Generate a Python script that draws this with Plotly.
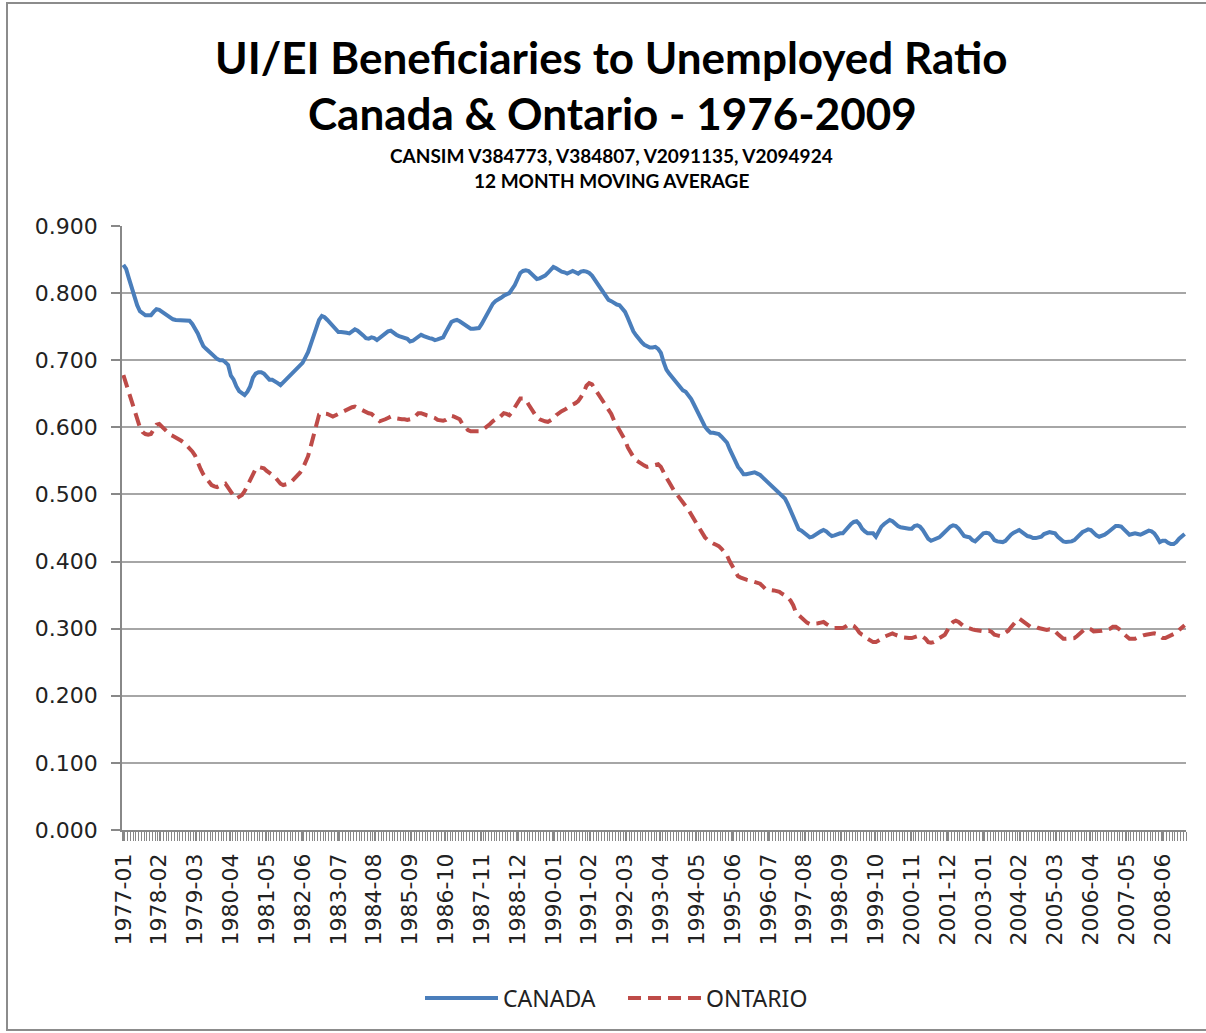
import plotly.graph_objects as go
import pandas as pd

# Monthly categories 1977-01 .. 2009-02
months = [p.strftime("%Y-%m") for p in pd.period_range("1977-01", "2009-02", freq="M")]

# Canada beneficiaries / unemployed ratio (12 month moving average)
canada = [
    0.842, 0.836, 0.822, 0.808, 0.794, 0.782, 0.773, 0.769, 0.767, 0.767, 0.767, 0.772,  # 1977
    0.776, 0.775, 0.772, 0.770, 0.767, 0.764, 0.761, 0.760, 0.760, 0.760, 0.760, 0.759,  # 1978
    0.759, 0.754, 0.748, 0.740, 0.730, 0.721, 0.717, 0.713, 0.709, 0.704, 0.702, 0.700,  # 1979
    0.700, 0.697, 0.693, 0.677, 0.671, 0.661, 0.654, 0.651, 0.648, 0.653, 0.661, 0.674,  # 1980
    0.680, 0.682, 0.682, 0.680, 0.675, 0.671, 0.671, 0.669, 0.666, 0.663, 0.667, 0.671,  # 1981
    0.676, 0.680, 0.684, 0.688, 0.691, 0.696, 0.704, 0.712, 0.724, 0.736, 0.748, 0.760,  # 1982
    0.766, 0.764, 0.760, 0.756, 0.752, 0.746, 0.742, 0.742, 0.742, 0.741, 0.740, 0.743,  # 1983
    0.746, 0.744, 0.741, 0.737, 0.733, 0.732, 0.734, 0.733, 0.730, 0.733, 0.736, 0.740,  # 1984
    0.743, 0.744, 0.740, 0.738, 0.736, 0.735, 0.733, 0.732, 0.728, 0.729, 0.732, 0.735,  # 1985
    0.738, 0.736, 0.734, 0.733, 0.732, 0.730, 0.731, 0.732, 0.734, 0.742, 0.750, 0.757,  # 1986
    0.759, 0.760, 0.758, 0.755, 0.752, 0.749, 0.747, 0.747, 0.747, 0.748, 0.754, 0.762,  # 1987
    0.769, 0.777, 0.784, 0.788, 0.790, 0.793, 0.796, 0.798, 0.800, 0.806, 0.812, 0.821,  # 1988
    0.830, 0.833, 0.834, 0.833, 0.829, 0.825, 0.821, 0.822, 0.824, 0.826, 0.830, 0.835,  # 1989
    0.839, 0.837, 0.834, 0.832, 0.831, 0.829, 0.831, 0.833, 0.831, 0.829, 0.832, 0.833,  # 1990
    0.832, 0.830, 0.826, 0.820, 0.815, 0.809, 0.804, 0.797, 0.790, 0.788, 0.785, 0.783,  # 1991
    0.782, 0.777, 0.772, 0.763, 0.752, 0.743, 0.737, 0.731, 0.727, 0.723, 0.721, 0.719,  # 1992
    0.719, 0.720, 0.717, 0.711, 0.697, 0.686, 0.680, 0.675, 0.670, 0.666, 0.660, 0.655,  # 1993
    0.653, 0.648, 0.642, 0.634, 0.626, 0.616, 0.607, 0.601, 0.596, 0.592, 0.592, 0.591,  # 1994
    0.590, 0.586, 0.581, 0.577, 0.567, 0.558, 0.549, 0.541, 0.536, 0.530, 0.530, 0.531,  # 1995
    0.532, 0.533, 0.531, 0.529, 0.525, 0.521, 0.517, 0.513, 0.510, 0.507, 0.502, 0.498,  # 1996
    0.494, 0.486, 0.476, 0.468, 0.458, 0.448, 0.446, 0.442, 0.438, 0.436, 0.437, 0.440,  # 1997
    0.442, 0.445, 0.447, 0.445, 0.441, 0.438, 0.439, 0.441, 0.442, 0.442, 0.447, 0.452,  # 1998
    0.456, 0.459, 0.460, 0.456, 0.449, 0.445, 0.442, 0.442, 0.442, 0.437, 0.444, 0.452,  # 1999
    0.456, 0.460, 0.462, 0.460, 0.456, 0.453, 0.451, 0.450, 0.449, 0.449, 0.449, 0.453,  # 2000
    0.454, 0.452, 0.447, 0.441, 0.434, 0.431, 0.433, 0.434, 0.436, 0.440, 0.444, 0.450,  # 2001
    0.452, 0.454, 0.453, 0.449, 0.443, 0.438, 0.437, 0.436, 0.432, 0.430, 0.434, 0.438,  # 2002
    0.442, 0.443, 0.442, 0.438, 0.432, 0.430, 0.429, 0.429, 0.431, 0.436, 0.440, 0.443,  # 2003
    0.445, 0.447, 0.444, 0.441, 0.438, 0.437, 0.435, 0.435, 0.436, 0.437, 0.441, 0.443,  # 2004
    0.444, 0.443, 0.442, 0.437, 0.433, 0.430, 0.429, 0.429, 0.430, 0.432, 0.436, 0.442,  # 2005
    0.444, 0.446, 0.448, 0.447, 0.442, 0.439, 0.437, 0.438, 0.440, 0.443, 0.447, 0.451,  # 2006
    0.453, 0.453, 0.452, 0.448, 0.444, 0.440, 0.441, 0.442, 0.441, 0.440, 0.442, 0.444,  # 2007
    0.446, 0.445, 0.442, 0.436, 0.429, 0.431, 0.431, 0.428, 0.426, 0.426, 0.429, 0.434,  # 2008
    0.437, 0.441,                                                                        # 2009
]

# Ontario beneficiaries / unemployed ratio (12 month moving average)
ontario = [
    0.678, 0.665, 0.650, 0.637, 0.623, 0.611, 0.600, 0.593, 0.590, 0.589, 0.590, 0.597,  # 1977
    0.604, 0.605, 0.601, 0.597, 0.592, 0.589, 0.587, 0.585, 0.583, 0.580, 0.577, 0.573,  # 1978
    0.569, 0.564, 0.558, 0.546, 0.538, 0.530, 0.524, 0.518, 0.514, 0.512, 0.511, 0.513,  # 1979
    0.515, 0.516, 0.510, 0.503, 0.498, 0.494, 0.496, 0.499, 0.505, 0.513, 0.524, 0.532,  # 1980
    0.538, 0.541, 0.540, 0.539, 0.535, 0.531, 0.529, 0.526, 0.521, 0.516, 0.514, 0.515,  # 1981
    0.516, 0.519, 0.523, 0.527, 0.532, 0.538, 0.546, 0.557, 0.572, 0.587, 0.600, 0.619,  # 1982
    0.621, 0.621, 0.620, 0.618, 0.616, 0.618, 0.620, 0.623, 0.625, 0.627, 0.629, 0.630,  # 1983
    0.631, 0.629, 0.627, 0.624, 0.622, 0.621, 0.620, 0.617, 0.613, 0.609, 0.610, 0.612,  # 1984
    0.614, 0.616, 0.614, 0.613, 0.613, 0.612, 0.612, 0.611, 0.612, 0.613, 0.617, 0.621,  # 1985
    0.621, 0.619, 0.618, 0.617, 0.616, 0.614, 0.611, 0.610, 0.610, 0.611, 0.614, 0.617,  # 1986
    0.616, 0.614, 0.612, 0.605, 0.600, 0.596, 0.594, 0.594, 0.593, 0.594, 0.595, 0.598,  # 1987
    0.602, 0.605, 0.609, 0.612, 0.613, 0.617, 0.621, 0.620, 0.618, 0.623, 0.629, 0.636,  # 1988
    0.643, 0.643, 0.641, 0.634, 0.627, 0.620, 0.615, 0.612, 0.610, 0.609, 0.608, 0.611,  # 1989
    0.613, 0.618, 0.622, 0.624, 0.626, 0.629, 0.632, 0.634, 0.636, 0.639, 0.645, 0.652,  # 1990
    0.662, 0.666, 0.664, 0.658, 0.651, 0.646, 0.640, 0.633, 0.628, 0.620, 0.610, 0.603,  # 1991
    0.596, 0.588, 0.581, 0.570, 0.562, 0.556, 0.551, 0.548, 0.546, 0.543, 0.541, 0.542,  # 1992
    0.543, 0.544, 0.545, 0.541, 0.532, 0.525, 0.518, 0.510, 0.504, 0.499, 0.494, 0.489,  # 1993
    0.484, 0.477, 0.470, 0.463, 0.455, 0.448, 0.442, 0.436, 0.432, 0.429, 0.427, 0.425,  # 1994
    0.423, 0.419, 0.414, 0.409, 0.400, 0.393, 0.386, 0.378, 0.376, 0.374, 0.373, 0.372,  # 1995
    0.371, 0.370, 0.369, 0.367, 0.363, 0.359, 0.358, 0.358, 0.357, 0.356, 0.355, 0.352,  # 1996
    0.350, 0.347, 0.342, 0.335, 0.324, 0.320, 0.315, 0.311, 0.309, 0.307, 0.307, 0.307,  # 1997
    0.308, 0.309, 0.310, 0.307, 0.304, 0.302, 0.301, 0.301, 0.301, 0.301, 0.303, 0.306,  # 1998
    0.306, 0.304, 0.300, 0.294, 0.291, 0.289, 0.285, 0.282, 0.280, 0.280, 0.282, 0.285,  # 1999
    0.288, 0.290, 0.292, 0.293, 0.291, 0.289, 0.288, 0.287, 0.286, 0.286, 0.286, 0.287,  # 2000
    0.289, 0.290, 0.288, 0.285, 0.280, 0.279, 0.280, 0.282, 0.286, 0.289, 0.291, 0.298,  # 2001
    0.306, 0.310, 0.312, 0.310, 0.306, 0.303, 0.302, 0.300, 0.299, 0.298, 0.297, 0.296,  # 2002
    0.296, 0.296, 0.297, 0.295, 0.291, 0.290, 0.289, 0.291, 0.294, 0.297, 0.302, 0.308,  # 2003
    0.312, 0.315, 0.312, 0.308, 0.305, 0.303, 0.303, 0.303, 0.301, 0.300, 0.299, 0.298,  # 2004
    0.299, 0.298, 0.296, 0.292, 0.288, 0.285, 0.285, 0.285, 0.285, 0.286, 0.289, 0.293,  # 2005
    0.297, 0.300, 0.300, 0.299, 0.296, 0.296, 0.296, 0.297, 0.298, 0.299, 0.300, 0.303,  # 2006
    0.303, 0.300, 0.297, 0.292, 0.288, 0.285, 0.285, 0.285, 0.287, 0.289, 0.290, 0.291,  # 2007
    0.292, 0.292, 0.293, 0.292, 0.289, 0.286, 0.286, 0.288, 0.290, 0.292, 0.294, 0.298,  # 2008
    0.302, 0.305,                                                                        # 2009
]

# x-axis labels shown every 13 months
label_step = 13
tick_idx = list(range(0, len(months), label_step))
tick_labels = [months[i] for i in tick_idx]
y_ticks = [0.0, 0.1, 0.2, 0.3, 0.4, 0.5, 0.6, 0.7, 0.8, 0.9]

x_idx = list(range(len(months)))

fig = go.Figure()
fig.add_trace(go.Scatter(
    x=x_idx, y=canada, name="CANADA", mode="lines",
    line=dict(color="#4A7EBB", width=4), customdata=months,
    hovertemplate="%{customdata}: %{y:.3f}<extra>CANADA</extra>",
))
fig.add_trace(go.Scatter(
    x=x_idx, y=ontario, name="ONTARIO", mode="lines",
    line=dict(color="#BE4B48", width=4, dash="13px,7px"), customdata=months,
    hovertemplate="%{customdata}: %{y:.3f}<extra>ONTARIO</extra>",
))

L, R, T, B = 122, 20, 226, 203
W, H = 1206, 1033
pw, ph = W - L - R, H - T - B


def px(xp):
    return (xp - L) / pw


def py(yp):
    return (H - B - yp) / ph


title_font = "Lato, 'Noto Sans', sans-serif"
annotations = [
    dict(text="<b>UI/EI Beneficiaries to Unemployed Ratio</b>", x=px(611), y=py(57),
         font=dict(size=44, family=title_font, color="#000")),
    dict(text="<b>Canada &amp; Ontario - 1976-2009</b>", x=px(612), y=py(113),
         font=dict(size=44, family=title_font, color="#000")),
    dict(text="<b>CANSIM V384773, V384807, V2091135, V2094924</b>", x=px(611), y=py(155),
         font=dict(size=19, family=title_font, color="#000")),
    dict(text="<b>12 MONTH MOVING AVERAGE</b>", x=px(611), y=py(181),
         font=dict(size=19, family=title_font, color="#000")),
]
for a in annotations:
    a.update(xref="paper", yref="paper", showarrow=False, xanchor="center", yanchor="middle")

fig.update_layout(
    width=W, height=H,
    margin=dict(l=L, r=R, t=T, b=B, pad=0),
    paper_bgcolor="white", plot_bgcolor="white",
    showlegend=True,
    legend=dict(orientation="h", x=px(420), y=py(998), xanchor="left", yanchor="middle",
                font=dict(size=23, family="'Noto Sans', sans-serif", color="#222"),
                itemwidth=73, entrywidth=115, entrywidthmode="pixels", traceorder="normal"),
    annotations=annotations,
    shapes=[dict(type="rect", xref="paper", yref="paper",
                 x0=px(7), x1=px(1215), y0=py(1030), y1=py(3),
                 line=dict(color="#8C8C8C", width=2), fillcolor="rgba(0,0,0,0)", layer="below")],
)

fig.update_xaxes(
    range=[-0.5, len(months) - 0.5],
    tickmode="array", tickvals=tick_idx, ticktext=tick_labels,
    tickangle=-90, ticks="outside", ticklen=9, tickcolor="#888", tickwidth=1,
    minor=dict(ticks="outside", ticklen=9, tickcolor="#888", tickwidth=1, tick0=0.5, dtick=1),
    ticklabelstandoff=4,
    tickfont=dict(family="'DejaVu Sans', sans-serif", size=22, color="#222"),
    showline=True, linecolor="#888", linewidth=1.5,
    showgrid=False, zeroline=False,
)
fig.update_yaxes(
    range=[0, 0.9], tickmode="array", tickvals=y_ticks, tickformat=".3f",
    ticks="outside", ticklen=9, tickcolor="#888", tickwidth=1.5,
    ticklabelstandoff=9,
    tickfont=dict(family="'DejaVu Sans', sans-serif", size=22, color="#222"),
    showline=True, linecolor="#888", linewidth=1.5,
    showgrid=True, gridcolor="#A6A6A6", gridwidth=1.5, zeroline=False,
)

fig.write_html("out.html", config={"displayModeBar": False},
               post_script="document.body.style.margin='0';")
